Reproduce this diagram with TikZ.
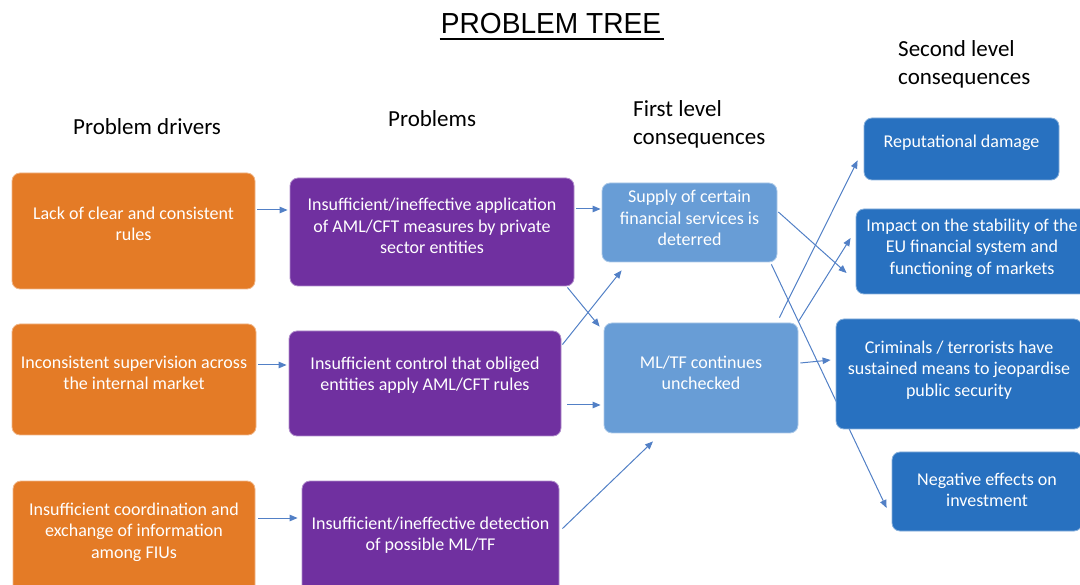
\documentclass[tikz,border=0pt]{standalone}
\usepackage{fontspec}
\setmainfont{Carlito}
\newfontfamily\titlefont{Liberation Sans}
\usetikzlibrary{arrows.meta,calc,backgrounds}
\definecolor{cOrange}{RGB}{228,123,38}
\definecolor{cPurple}{RGB}{112,48,160}
\definecolor{cLight}{RGB}{104,157,214}
\definecolor{cDark}{RGB}{40,113,192}
\definecolor{cArrow}{RGB}{82,128,198}
\begin{document}
\begin{tikzpicture}[x=1pt,y=-1pt,
  box/.style={rounded corners=8pt, line width=0.8pt, inner sep=0pt, anchor=center},
  obox/.style={box, fill=cOrange, draw=cOrange!55!white},
  pbox/.style={box, fill=cPurple, draw=cPurple!55!white},
  lbox/.style={box, fill=cLight, draw=cLight!55!white},
  dbox/.style={box, fill=cDark, draw=cDark!55!white},
  btext/.style={text=white, font=\fontsize{18}{21.5}\selectfont, align=center, inner sep=0pt, anchor=center},
  head/.style={font=\fontsize{23}{28}\selectfont, anchor=base west, inner sep=0pt, text=black},
  arr/.style={draw=cArrow, line width=1pt, -{Triangle[length=8pt,width=6.5pt]}}
]
\useasboundingbox (0,0) rectangle (1080,585);

% title
\node[inner sep=0pt, anchor=base] (title) at (551,34) {\titlefont\fontsize{29}{30}\selectfont\scalebox{0.97}[1]{PROBLEM TREE}};
\draw[line width=2.4pt] ($(title.base west)+(-1,5)$) -- ($(title.base east)+(3,5)$);

% headings
\node[head] (h1) at (73,135) {Problem drivers};
\node[head] (h2) at (388,127) {Problems};
\node[head] (h3a) at (633,117) {First level};
\node[head] (h3b) at (633,145) {consequences};
\node[head] (h4a) at (898,57) {Second level};
\node[head] (h4b) at (898,85) {consequences};

% problem drivers
\node[obox, minimum width=243pt, minimum height=116pt] (d1) at (133.5,231) {};
\node[btext] (d1t) at (133.5,224) {Lack of clear and consistent\\rules};
\node[obox, minimum width=244pt, minimum height=111pt] (d2) at (134,379.5) {};
\node[btext] (d2t) at (134,373) {Inconsistent supervision across\\the internal market};
\node[obox, minimum width=242pt, minimum height=116pt] (d3) at (134,539) {};
\node[btext] (d3t) at (134,532) {Insufficient coordination and\\exchange of information\\among FIUs};

% problems
\node[pbox, minimum width=284pt, minimum height=108pt] (p1) at (432,232) {};
\node[btext] (p1t) at (432,226) {Insufficient/ineffective application\\of AML/CFT measures by private\\sector entities};
\node[pbox, minimum width=272pt, minimum height=105pt] (p2) at (425,383.5) {};
\node[btext] (p2t) at (425,375) {Insufficient control that obliged\\entities apply AML/CFT rules};
\node[pbox, minimum width=257pt, minimum height=116pt] (p3) at (430.5,539) {};
\node[btext] (p3t) at (430.5,535) {Insufficient/ineffective detection\\of possible ML/TF};

% first level consequences
\node[lbox, minimum width=175pt, minimum height=79pt] (l1) at (689.5,222.5) {};
\node[btext] (l1t) at (689.5,218) {Supply of certain\\financial services is\\deterred};
\node[lbox, minimum width=194pt, minimum height=110pt] (l2) at (701,378) {};
\node[btext] (l2t) at (701,373) {ML/TF continues\\unchecked};

% second level consequences
\node[dbox, minimum width=195pt, minimum height=62pt] (c1) at (961.5,149) {};
\node[btext] (c1t) at (961.5,143) {Reputational damage};
\node[dbox, minimum width=232pt, minimum height=85pt] (c2) at (972,251.5) {};
\node[btext] (c2t) at (972,248) {Impact on the stability of the\\EU financial system and\\functioning of markets};
\node[dbox, minimum width=246pt, minimum height=110pt] (c3) at (959,374) {};
\node[btext] (c3t) at (959,370) {Criminals / terrorists have\\sustained means to jeopardise\\public security};
\node[dbox, minimum width=190pt, minimum height=79pt] (c4) at (987,491.5) {};
\node[btext] (c4t) at (987,490) {Negative effects on\\investment};

% connectors
\begin{scope}[on background layer]
\draw[arr] ($(d1.east)+(2,-21)$) -- ($(p1.west)+(-2,-22)$);
\draw[arr] ($(d2.east)+(2,-14.5)$) -- ($(p2.west)+(-2,-18.5)$);
\draw[arr] ($(d3.east)+(3,-21)$) -- ($(p3.west)+(-4,-21)$);
\draw[arr] ($(p1.east)+(2,-23)$) -- ($(l1.west)+(-1,-13.5)$);
\draw[arr] ($(p1.south east)+(-7,1)$) -- ($(l2.north west)+(-4,4)$);
\draw[arr] ($(p2.north east)+(1,14)$) -- ($(l1.south west)+(20,8)$);
\draw[arr] ($(p2.east)+(6,21.5)$) -- ($(l2.west)+(-3,27)$);
\draw[arr] ($(p3.north east)+(3,48)$) -- ($(l2.south)+(-48,8)$);
\draw[arr] ($(l1.east)+(1,-10.5)$) -- ($(c2.west)+(-9,21.5)$);
\draw[arr] ($(l1.south east)+(-6,2)$) -- ($(c4.west)+(-5,16.5)$);
\draw[arr] ($(l2.north east)+(-19,-5)$) -- ($(c1.south west)+(-6,-20)$);
\draw[arr] ($(l2.north east)+(0,-1)$) -- ($(c2.west)+(-5,-13.5)$);
\draw[arr] ($(l2.east)+(2,-15)$) -- ($(c3.west)+(-5,-14)$);
\end{scope}
\end{tikzpicture}
\end{document}
